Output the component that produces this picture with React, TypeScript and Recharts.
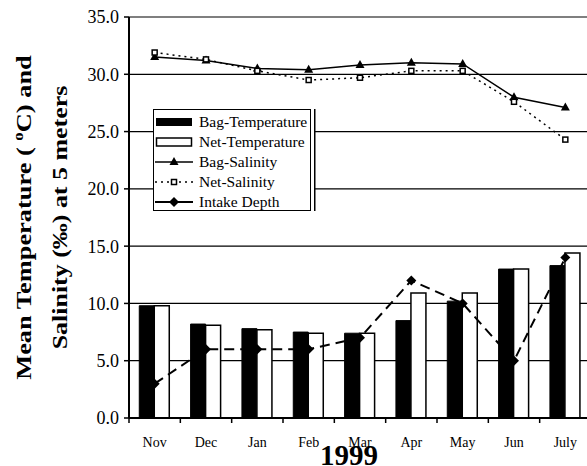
import React from 'react';
import { ComposedChart, Bar, Line, XAxis, YAxis, CartesianGrid, Legend } from 'recharts';

const months = ['Nov', 'Dec', 'Jan', 'Feb', 'Mar', 'Apr', 'May', 'Jun', 'July'];
const bagTemperature = [9.8, 8.2, 7.8, 7.5, 7.4, 8.5, 10.2, 13.0, 13.3];
const netTemperature = [9.8, 8.1, 7.7, 7.4, 7.4, 10.9, 10.9, 13.0, 14.4];
const bagSalinity = [31.5, 31.2, 30.5, 30.4, 30.8, 31.0, 30.9, 28.0, 27.1];
const netSalinity = [31.9, 31.3, 30.3, 29.5, 29.7, 30.3, 30.3, 27.6, 24.3];
const intakeDepth = [3, 6, 6, 6, 7, 12, 10, 5, 14];
const yTicks = [0, 5, 10, 15, 20, 25, 30, 35];
const seriesNames = ['Bag-Temperature', 'Net-Temperature', 'Bag-Salinity', 'Net-Salinity', 'Intake Depth'];
const yearLabel = '1999';

const data = months.map((m, i) => ({
  month: m,
  bagT: bagTemperature[i],
  netT: netTemperature[i],
  bagS: bagSalinity[i],
  netS: netSalinity[i],
  depth: intakeDepth[i],
}));

const FONT = '"Liberation Serif", "Times New Roman", serif';
const W = 600;
const H = 466;
const Y_AXIS_W = 129;
const MARGIN_RIGHT = 9;
const halfBand = (W - Y_AXIS_W - MARGIN_RIGHT) / months.length / 2;

function XTick(props: any) {
  const { x, y, payload } = props;
  return (
    <g>
      <line x1={x - halfBand} x2={x - halfBand} y1={y} y2={y + 5} stroke="#000" strokeWidth={1.5} />
      <text x={x} y={y + 29} textAnchor="middle" fontSize={14} fontFamily={FONT} fill="#000">
        {payload.value}
      </text>
    </g>
  );
}

function YLabel(props: any) {
  const { x, y, height } = props.viewBox;
  const cy = y + height / 2;
  return (
    <g fontFamily={FONT} fontWeight="bold" fontSize={22} fill="#000">
      <text transform={`translate(${x + 31},${cy}) rotate(-90) scale(1.2,1)`} textAnchor="middle">
        Mean Temperature ( <tspan dy={-8} fontSize={14}>o</tspan>
        <tspan dy={8}>C) and</tspan>
      </text>
      <text transform={`translate(${x + 67},${cy}) rotate(-90) scale(1.18,1)`} textAnchor="middle">
        Salinity (‰) at 5 meters
      </text>
    </g>
  );
}

function XLabel(props: any) {
  const { x, y } = props.viewBox;
  return (
    <text x={x + 220} y={y + 47} textAnchor="middle" fontFamily={FONT} fontWeight="bold" fontSize={29} fill="#000">
      {yearLabel}
    </text>
  );
}

const triangleDot = (p: any) => {
  const { cx, cy, index } = p;
  if (cx == null || cy == null) return <g key={`t${index}`} />;
  return <polygon key={`t${index}`} points={`${cx},${cy - 5} ${cx + 4.5},${cy + 3} ${cx - 4.5},${cy + 3}`} fill="#000" />;
};

const squareDot = (p: any) => {
  const { cx, cy, index } = p;
  if (cx == null || cy == null) return <g key={`s${index}`} />;
  return <rect key={`s${index}`} x={cx - 2.5} y={cy - 2.5} width={5} height={5} fill="#fff" stroke="#000" strokeWidth={1.5} />;
};

const diamondDot = (p: any) => {
  const { cx, cy, index } = p;
  if (cx == null || cy == null) return <g key={`d${index}`} />;
  return <polygon key={`d${index}`} points={`${cx},${cy - 5} ${cx + 5},${cy} ${cx},${cy + 5} ${cx - 5},${cy}`} fill="#000" />;
};

function LegendIcon({ kind }: { kind: number }) {
  return (
    <svg width={38} height={20} style={{ display: 'block', flex: 'none' }}>
      {kind === 0 && <rect x={1} y={6} width={36} height={8} fill="#000" />}
      {kind === 1 && <rect x={1.5} y={6} width={35} height={8} fill="#fff" stroke="#000" strokeWidth={1.5} />}
      {kind === 2 && (
        <g>
          <line x1={0} x2={38} y1={10} y2={10} stroke="#000" strokeWidth={1.5} />
          <polygon points="19,5 23.5,13 14.5,13" fill="#000" />
        </g>
      )}
      {kind === 3 && (
        <g>
          <line x1={0} x2={38} y1={10} y2={10} stroke="#000" strokeWidth={1.5} strokeDasharray="2 4" />
          <rect x={16.5} y={7.5} width={5} height={5} fill="#fff" stroke="#000" strokeWidth={1.5} />
        </g>
      )}
      {kind === 4 && (
        <g>
          <line x1={0} x2={38} y1={10} y2={10} stroke="#000" strokeWidth={2} />
          <polygon points="19,5 24,10 19,15 14,10" fill="#000" />
        </g>
      )}
    </svg>
  );
}

function LegendBox() {
  return (
    <div
      style={{
        boxSizing: 'border-box',
        width: 158,
        height: 102,
        border: '1.5px solid #000',
        background: '#fff',
        boxShadow: '3px 0 0 0 #fff, 4.5px 0 0 0 #000',
        padding: '1.5px 0 0 1px',
        fontFamily: FONT,
        fontSize: 15.5,
        lineHeight: '20px',
        color: '#000',
        overflow: 'hidden',
      }}
    >
      {seriesNames.map((name, i) => (
        <div key={name} style={{ display: 'flex', alignItems: 'center', height: 20, whiteSpace: 'nowrap' }}>
          <LegendIcon kind={i} />
          <span style={{ marginLeft: 6 }}>{name}</span>
        </div>
      ))}
    </div>
  );
}

export default function App() {
  return (
    <div style={{ position: 'absolute', left: 0, top: 0, width: 587, height: 466, overflow: 'hidden', background: '#fff' }}>
      <ComposedChart
        width={W}
        height={H}
        data={data}
        margin={{ top: 17, right: MARGIN_RIGHT, left: 0, bottom: 0 }}
        barCategoryGap="20%"
        barGap={0}
      >
        <CartesianGrid horizontal vertical={false} stroke="#000" strokeWidth={1.2} />
        <XAxis
          dataKey="month"
          height={48}
          axisLine={{ stroke: '#000', strokeWidth: 2 }}
          tickLine={false}
          tickSize={0}
          tickMargin={0}
          tick={<XTick />}
          interval={0}
          label={<XLabel />}
        />
        <YAxis
          width={Y_AXIS_W}
          domain={[0, 35]}
          ticks={yTicks}
          interval={0}
          tickFormatter={(v: number) => v.toFixed(1)}
          axisLine={{ stroke: '#000', strokeWidth: 2 }}
          tickLine={{ stroke: '#000', strokeWidth: 1.5 }}
          tickSize={5}
          tickMargin={5}
          tick={{ fontSize: 18, fill: '#000', fontFamily: FONT }}
          label={<YLabel />}
        />
        <Legend
          layout="vertical"
          align="center"
          verticalAlign="middle"
          wrapperStyle={{ left: 153, top: 109, width: 158, height: 102 }}
          content={() => <LegendBox />}
        />
        <Bar dataKey="bagT" name={seriesNames[0]} fill="#000" stroke="#000" strokeWidth={1} isAnimationActive={false} />
        <Bar dataKey="netT" name={seriesNames[1]} fill="#fff" stroke="#000" strokeWidth={1.5} isAnimationActive={false} />
        <Line dataKey="bagS" name={seriesNames[2]} stroke="#000" strokeWidth={1.5} dot={triangleDot} activeDot={false} isAnimationActive={false} />
        <Line dataKey="netS" name={seriesNames[3]} stroke="#000" strokeWidth={1.5} strokeDasharray="2 4" dot={squareDot} activeDot={false} isAnimationActive={false} />
        <Line dataKey="depth" name={seriesNames[4]} stroke="#000" strokeWidth={2} strokeDasharray="10 6" dot={diamondDot} activeDot={false} isAnimationActive={false} />
      </ComposedChart>
    </div>
  );
}
